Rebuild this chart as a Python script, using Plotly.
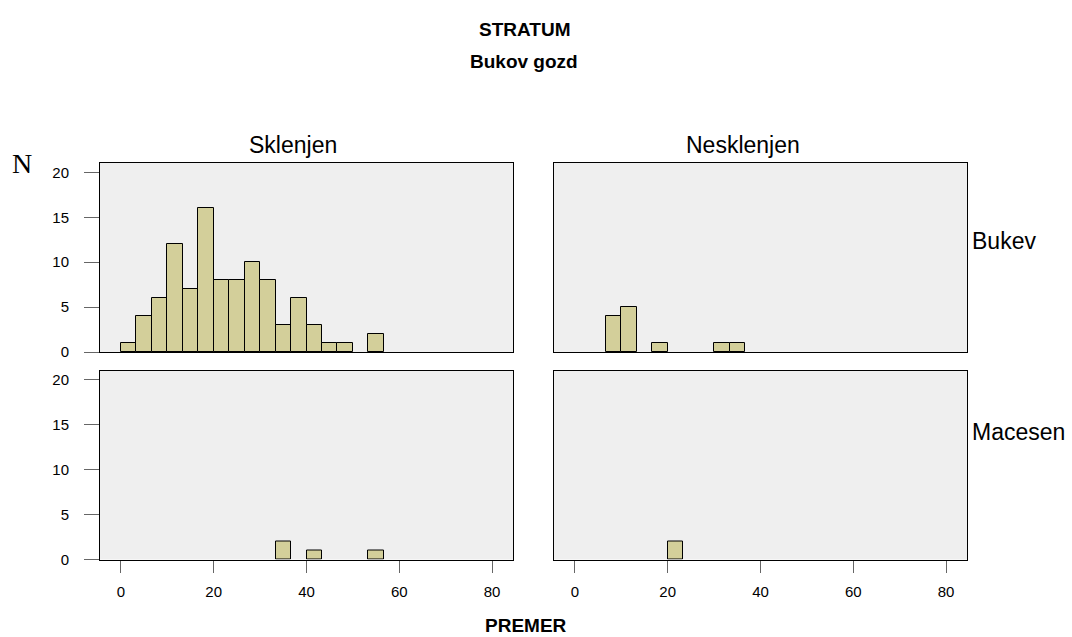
import plotly.graph_objects as go

# ---- data ----
bin_width = 10 / 3
bin_index = list(range(17))  # bins start at 0, width 10/3
counts_sklenjen_bukev = [1, 4, 6, 12, 7, 16, 8, 8, 10, 8, 3, 6, 3, 1, 1, 0, 2]
counts_nesklenjen_bukev = [0, 0, 4, 5, 0, 1, 0, 0, 0, 1, 1, 0, 0, 0, 0, 0, 0]
counts_sklenjen_macesen = [0, 0, 0, 0, 0, 0, 0, 0, 0, 0, 2, 0, 1, 0, 0, 0, 1]
counts_nesklenjen_macesen = [0, 0, 0, 0, 0, 0, 2, 0, 0, 0, 0, 0, 0, 0, 0, 0, 0]
col_labels = ["Sklenjen", "Nesklenjen"]
row_labels = ["Bukev", "Macesen"]
x_ticks = [0, 20, 40, 60, 80]
y_ticks = [0, 5, 10, 15, 20]

W, H = 1072, 637
centers = [(i + 0.5) * bin_width for i in bin_index]

panels = [
    (counts_sklenjen_bukev, "x", "y"),
    (counts_nesklenjen_bukev, "x2", "y2"),
    (counts_sklenjen_macesen, "x3", "y3"),
    (counts_nesklenjen_macesen, "x4", "y4"),
]

fig = go.Figure()
for counts, xa, ya in panels:
    xs = [c for c, v in zip(centers, counts) if v > 0]
    ys = [v for v in counts if v > 0]
    fig.add_trace(go.Bar(
        x=xs, y=ys, width=bin_width, xaxis=xa, yaxis=ya,
        marker=dict(color="#d3cf9a", line=dict(color="#000000", width=1)),
        showlegend=False, hoverinfo="x+y",
    ))

def px_x(p):
    return p / W

def px_y(p):
    return 1 - p / H

xdom_l = [px_x(100), px_x(513)]
xdom_r = [px_x(554), px_x(967)]
ydom_t = [px_y(352), px_y(163)]
ydom_b = [px_y(559.5), px_y(370.5)]

sans = "Liberation Sans, Arial, sans-serif"
font_tick = dict(family=sans, size=15, color="#000000")
xr = [-4.5, 84.5]
yr = [0, 21.05]

def xaxis(dom, anchor, show):
    return dict(domain=dom, anchor=anchor, range=xr, showgrid=False, zeroline=False,
                showline=True, mirror=True, linecolor="#000000", linewidth=1,
                tickvals=x_ticks if show else [], ticks="outside" if show else "",
                ticklen=12, tickcolor="#666666", showticklabels=show,
                ticklabelstandoff=6, tickfont=font_tick, automargin=False)

def yaxis(dom, anchor, show):
    return dict(domain=dom, anchor=anchor, range=yr, showgrid=False, zeroline=False,
                showline=True, mirror=True, linecolor="#000000", linewidth=1,
                tickvals=y_ticks if show else [], ticks="outside" if show else "",
                ticklen=15, tickcolor="#666666", showticklabels=show,
                ticklabelstandoff=12, tickfont=font_tick, automargin=False)

fig.update_layout(
    width=W, height=H,
    margin=dict(l=0, r=0, t=0, b=0),
    paper_bgcolor="#ffffff",
    plot_bgcolor="#efefef",
    bargap=0,
    xaxis=xaxis(xdom_l, "y", False),
    yaxis=yaxis(ydom_t, "x", True),
    xaxis2=xaxis(xdom_r, "y2", False),
    yaxis2=yaxis(ydom_t, "x2", False),
    xaxis3=xaxis(xdom_l, "y3", True),
    yaxis3=yaxis(ydom_b, "x3", True),
    xaxis4=xaxis(xdom_r, "y4", True),
    yaxis4=yaxis(ydom_b, "x4", False),
)

ann = []
def add(text, x, y, size, bold=False, family=sans, xanchor="center"):
    ann.append(dict(text=f"<b>{text}</b>" if bold else text, x=px_x(x), y=px_y(y),
                    xref="paper", yref="paper", showarrow=False, xanchor=xanchor,
                    yanchor="middle", font=dict(family=family, size=size, color="#000000")))

add("STRATUM", 524, 30, 19, bold=True)
add("Bukov gozd", 524, 62, 19, bold=True)
add(col_labels[0], 293, 145, 23)
add(col_labels[1], 743, 145, 23)
add(row_labels[0], 970, 241, 23, xanchor="left")
add(row_labels[1], 970, 432, 23, xanchor="left")
add("N", 22, 163, 28, family="Liberation Serif, Times New Roman, serif")
add("PREMER", 526, 625, 19, bold=True)
fig.update_layout(annotations=ann)

fig.write_html(
    "out.html",
    config={"displayModeBar": False},
    post_script="document.body.style.margin='0';document.body.style.overflow='hidden';",
)
